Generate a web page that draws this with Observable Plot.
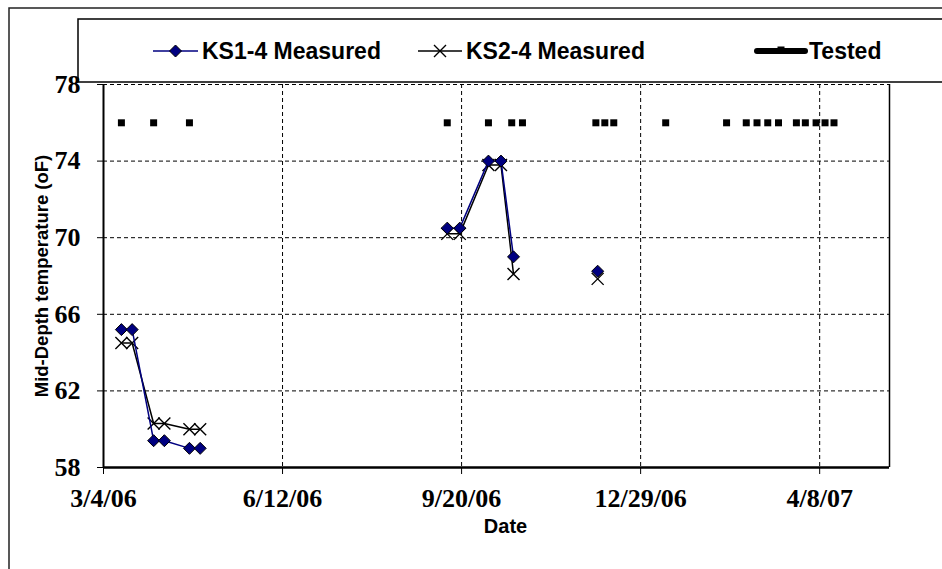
<!DOCTYPE html>
<html>
<head>
<meta charset="utf-8">
<script src="https://cdn.jsdelivr.net/npm/d3@7"></script>
<script src="https://cdn.jsdelivr.net/npm/@observablehq/plot@0.6"></script>
<style>
  html, body { margin: 0; padding: 0; background: #fff; }
  #chart svg { display: block; }
</style>
</head>
<body>
<div id="chart"></div>
<script>
// ---- data ----
const measuredDates = ["2006-03-14","2006-03-20","2006-04-01","2006-04-07","2006-04-21","2006-04-27","2006-07-01","2006-09-12","2006-09-19","2006-10-05","2006-10-12","2006-10-19","2006-11-15","2006-12-05"];
const ks1Values = [65.2, 65.2, 59.4, 59.4, 59.0, 59.0, null, 70.5, 70.5, 74.0, 74.0, 69.0, null, 68.25];
const ks2Values = [64.5, 64.5, 60.3, 60.3, 60.0, 60.0, null, 70.2, 70.2, 73.8, 73.8, 68.1, null, 67.85];
const testedDates = ["2006-03-14","2006-04-01","2006-04-21","2006-09-12","2006-10-05","2006-10-18","2006-10-24","2006-12-04","2006-12-09","2006-12-14","2007-01-12","2007-02-15","2007-02-26","2007-03-04","2007-03-10","2007-03-16","2007-03-26","2007-03-31","2007-04-06","2007-04-11","2007-04-16"];
const testedValue = 76;
const xTickDates = ["2006-03-04","2006-06-12","2006-09-20","2006-12-29","2007-04-08"];
const xDomainDates = ["2006-03-04","2007-05-17"];
const yTicks = [58, 62, 66, 70, 74, 78];
const seriesNames = ["KS1-4 Measured", "KS2-4 Measured", "Tested"];
const xLabel = "Date";
const yLabel = "Mid-Depth temperature (oF)";

// ---- build tables ----
const parse = s => new Date(s + "T00:00:00Z");
const ks1 = measuredDates.map((d, i) => ({date: parse(d), value: ks1Values[i]}));
const ks2 = measuredDates.map((d, i) => ({date: parse(d), value: ks2Values[i]}));
const tested = testedDates.map(d => ({date: parse(d), value: testedValue}));
const xTicks = xTickDates.map(parse);
const fmt = d => `${d.getUTCMonth() + 1}/${d.getUTCDate()}/${String(d.getUTCFullYear()).slice(2)}`;

const diamond = {draw(ctx, size) { const r = Math.sqrt(size / Math.PI); ctx.moveTo(0, -r); ctx.lineTo(r, 0); ctx.lineTo(0, r); ctx.lineTo(-r, 0); ctx.closePath(); }};
const cross = {draw(ctx, size) { const r = Math.sqrt(size / Math.PI); ctx.moveTo(-r, -r); ctx.lineTo(r, r); ctx.moveTo(r, -r); ctx.lineTo(-r, r); }};

const serif = "Liberation Serif, Times New Roman, serif";
const sans = "Liberation Sans, Arial, sans-serif";

const chart = Plot.plot({
  width: 942,
  height: 569,
  marginLeft: 103,
  marginRight: 53,
  marginTop: 84,
  marginBottom: 102,
  style: {background: "white", color: "black", overflow: "visible"},
  x: {type: "utc", domain: xDomainDates.map(parse)},
  y: {domain: [58, 78]},
  marks: [
    Plot.ruleY(yTicks.slice(1), {stroke: "black", strokeWidth: 1, strokeDasharray: "4,3"}),
    Plot.ruleX(xTicks.slice(1), {stroke: "black", strokeWidth: 1, strokeDasharray: "4,3"}),
    Plot.ruleX([parse(xDomainDates[1])], {stroke: "black", strokeWidth: 1.5}),
    Plot.ruleX([xTicks[0]], {stroke: "black", strokeWidth: 2}),
    Plot.ruleY([58], {stroke: "black", strokeWidth: 2.5}),
    Plot.axisX({ticks: xTicks, tickFormat: fmt, tickSize: 7, tickPadding: 14, label: null,
      fontSize: 26, fontFamily: serif, fontWeight: "bold", strokeWidth: 1}),
    Plot.axisY({ticks: yTicks, tickFormat: d => d, tickSize: 6, tickPadding: 17, label: null,
      fontSize: 26, fontFamily: serif, fontWeight: "bold", strokeWidth: 1}),
    Plot.text([xLabel], {frameAnchor: "bottom", dx: 9, dy: 65, fontSize: 20, fontFamily: sans, fontWeight: "bold", fill: "black"}),
    Plot.text([yLabel], {frameAnchor: "left", textAnchor: "middle", dx: -61, rotate: -90, fontSize: 18.5, fontFamily: sans, fontWeight: "bold", fill: "black"}),
    Plot.dot(tested, {x: "date", y: "value", symbol: "square", r: 3.95, fill: "black", stroke: "none"}),
    Plot.line(ks2, {x: "date", y: "value", stroke: "black", strokeWidth: 1.5}),
    Plot.dot(ks2, {x: "date", y: "value", symbol: cross, r: 6, fill: "none", stroke: "black", strokeWidth: 1.4}),
    Plot.line(ks1, {x: "date", y: "value", stroke: "#000080", strokeWidth: 1.5}),
    Plot.dot(ks1, {x: "date", y: "value", symbol: diamond, r: 6, fill: "#000080", stroke: "black", strokeWidth: 1})
  ]
});
document.getElementById("chart").appendChild(chart);

// ---- enforce serif tick labels ----
const svg = d3.select(chart);
svg.selectAll("g[aria-label='x-axis tick label'], g[aria-label='y-axis tick label']")
  .attr("font-family", serif).style("font-family", serif)
  .attr("font-weight", "bold").style("font-weight", "bold").style("font-size", "26px");

// ---- outer border and legend ----
const lg = svg.insert("g", ":first-child");
lg.append("rect").attr("x", 9).attr("y", 8).attr("width", 1000).attr("height", 1000)
  .attr("fill", "white").attr("stroke", "#222").attr("stroke-width", 1.5);
lg.append("rect").attr("x", 78).attr("y", 19).attr("width", 1000).attr("height", 63)
  .attr("fill", "white").attr("stroke", "black").attr("stroke-width", 1.5);
const ly = 51;
const items = [
  {x0: 153, x1: 198, tx: 202, color: "#000080", width: 1.5, sym: "diamond"},
  {x0: 418, x1: 462, tx: 466, color: "black", width: 1.5, sym: "cross"},
  {x0: 757, x1: 805, tx: 809, color: "black", width: 6, sym: "square"}
];
items.forEach((it, i) => {
  lg.append("line").attr("x1", it.x0).attr("x2", it.x1).attr("y1", ly).attr("y2", ly)
    .attr("stroke", it.color).attr("stroke-width", it.width).attr("stroke-linecap", it.sym === "square" ? "round" : "butt");
  const cx = (it.x0 + it.x1) / 2;
  if (it.sym === "diamond") {
    lg.append("path").attr("d", `M${cx},${ly-6}L${cx+6},${ly}L${cx},${ly+6}L${cx-6},${ly}Z`)
      .attr("fill", "#000080").attr("stroke", "black").attr("stroke-width", 1);
  } else if (it.sym === "cross") {
    lg.append("path").attr("d", `M${cx-6},${ly-6}L${cx+6},${ly+6}M${cx+6},${ly-6}L${cx-6},${ly+6}`)
      .attr("fill", "none").attr("stroke", "black").attr("stroke-width", 1.4);
  } else {
    lg.append("rect").attr("x", cx - 3.5).attr("y", ly - 4.5).attr("width", 7).attr("height", 7).attr("fill", "black");
  }
  lg.append("text").attr("x", it.tx).attr("y", ly).attr("dy", "0.36em")
    .attr("text-anchor", "start")
    .attr("font-family", sans).attr("font-weight", "bold").attr("font-size", 23)
    .attr("fill", "black").text(seriesNames[i]);
});
</script>
</body>
</html>
